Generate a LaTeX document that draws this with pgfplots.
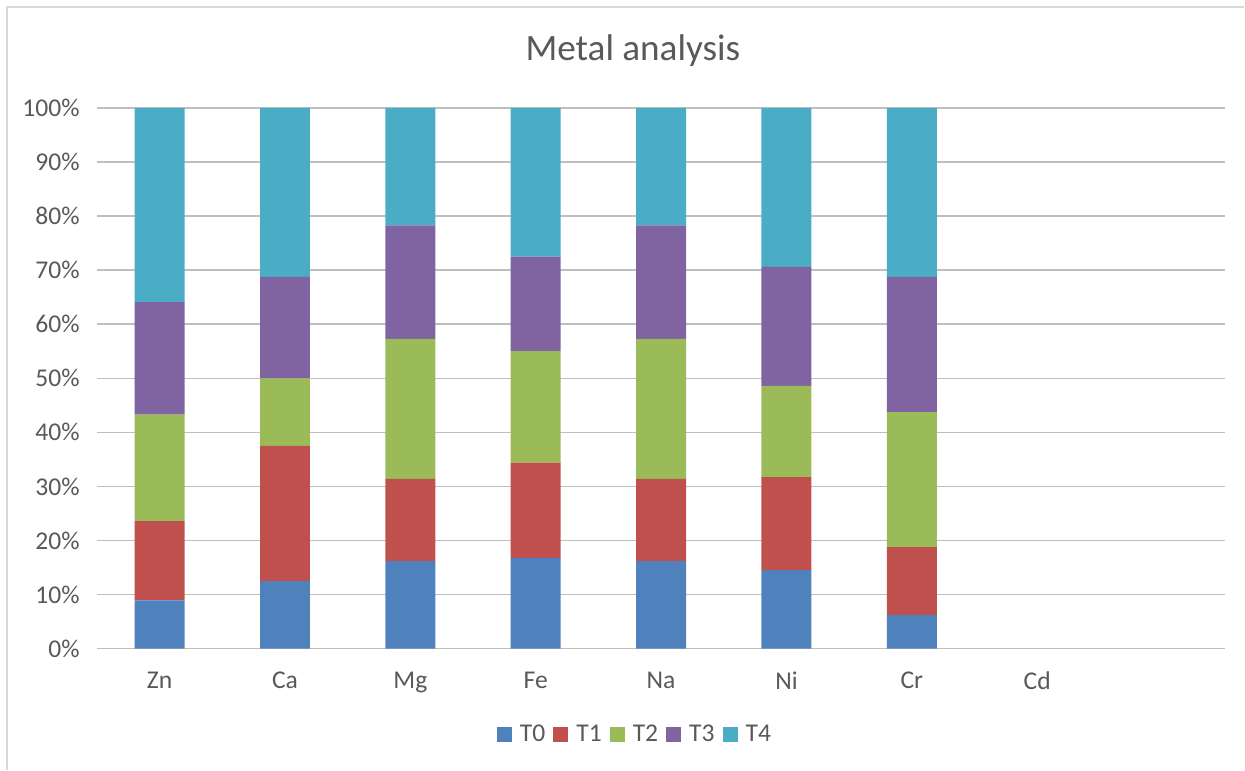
\documentclass[border=0pt]{standalone}
\usepackage{pgfplots}
\pgfplotsset{compat=1.18}
\usepackage{pgfplotstable}
\usepackage{fontspec}
\setmainfont{Carlito}

\definecolor{cT0}{HTML}{4F81BD}
\definecolor{cT1}{HTML}{C0504D}
\definecolor{cT2}{HTML}{9BBB59}
\definecolor{cT3}{HTML}{8064A2}
\definecolor{cT4}{HTML}{4BACC6}
\definecolor{txt}{HTML}{595959}
\definecolor{grid}{HTML}{D9D9D9}

% share of each period per metal, in percent (Cd has no data)
\pgfplotstableread{
x  T0    T1    T2    T3    T4
0  8.9   14.7  19.7  20.8  35.9
1  12.5  25    12.5  18.75 31.25
2  16.2  15.2  25.9  21.0  21.7
3  16.8  17.6  20.6  17.5  27.5
4  16.2  15.2  25.9  21.0  21.7
5  14.5  17.2  16.9  22.0  29.4
6  6.25  12.5  25    25    31.25
}\metals

\begin{document}
\begin{tikzpicture}
\path (0,0) rectangle (622.5pt,385pt);
\draw[grid, line width=0.75pt] (3.5pt,0) -- (3.5pt,381.5pt) -- (622.5pt,381.5pt);
\begin{axis}[
    at={(48.5pt,60.5pt)}, anchor=south west,
    scale only axis,
    width=564.5pt, height=270.5pt,
    ybar stacked,
    bar width=25pt,
    xmin=-0.5, xmax=8.5,
    ymin=0, ymax=100,
    xtick={0,...,7},
    xticklabels={Zn, Ca, Mg, Fe, Na, Ni, Cr, Cd},
    ytick={0,10,...,100},
    yticklabel={\pgfmathprintnumber{\tick}\%},
    /pgf/number format/assume math mode=true,
    ymajorgrids, xmajorgrids=false,
    major grid style={grid, line width=0.75pt},
    axis line style={draw=none},
    major tick length=0pt,
    xtick style={draw=none}, ytick style={draw=none},
    tick label style={font=\fontsize{12.8}{15}\selectfont, text=txt},
    yticklabel style={inner sep=0pt, anchor=east, xshift=-8.5pt},
    xticklabel style={inner sep=0pt, anchor=north, yshift=-11.5pt},
    title={Metal analysis},
    title style={at={(0.475,1.107)}, anchor=center, yshift=-6pt,
        font=\fontsize{18.6}{22}\selectfont, text=txt},
    legend columns=5,
    legend style={at={(0.476,-0.159)}, anchor=center, draw=none,
        font=\fontsize{12.8}{15}\selectfont, text=txt,
        column sep=4pt, nodes={inner sep=0pt}},
    legend image code/.code={\fill[#1] (0pt,-3.75pt) rectangle (7.5pt,3.75pt);},
]
\addplot[fill=cT0, draw=none] table[x=x, y=T0] {\metals};
\addplot[fill=cT1, draw=none] table[x=x, y=T1] {\metals};
\addplot[fill=cT2, draw=none] table[x=x, y=T2] {\metals};
\addplot[fill=cT3, draw=none] table[x=x, y=T3] {\metals};
\addplot[fill=cT4, draw=none] table[x=x, y=T4] {\metals};
\legend{T0, T1, T2, T3, T4}
\end{axis}
\end{tikzpicture}
\end{document}
